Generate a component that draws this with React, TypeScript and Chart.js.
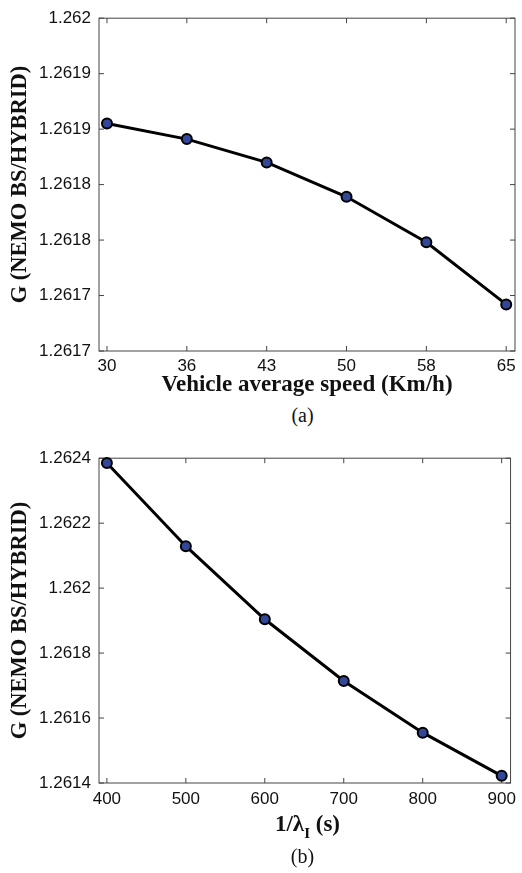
import React, { useEffect, useRef } from "react";
import { Chart, registerables } from "chart.js";

Chart.register(...registerables);

// (a) G ratio vs vehicle average speed
const speedLabels = ["30", "36", "43", "50", "58", "65"];
const speedGain = [1.261905, 1.261891, 1.26187, 1.261839, 1.261798, 1.261742];
const speedYTicks = [1.2617, 1.26175, 1.2618, 1.26185, 1.2619, 1.26195, 1.262];
const speedYLabels = ["1.2617", "1.2617", "1.2618", "1.2618", "1.2619", "1.2619", "1.262"];

// (b) G ratio vs 1/lambda_I
const lambdaValues = [400, 500, 600, 700, 800, 900];
const lambdaGain = [1.262385, 1.262129, 1.261904, 1.261714, 1.261555, 1.261422];
const lambdaYTicks = [1.2614, 1.2616, 1.2618, 1.262, 1.2622, 1.2624];
const lambdaYLabels = ["1.2614", "1.2616", "1.2618", "1.262", "1.2622", "1.2624"];

const FRAME = "#444";
const TEXT = "#111";
const SANS = "'Liberation Sans', Arial, sans-serif";
const SERIF = "'Liberation Serif', 'Times New Roman', serif";

// matlab style box with inward tick marks on all four sides
const boxTicks = {
  id: "boxTicks",
  beforeDatasetsDraw(chart: any) {
    const { ctx, chartArea, scales } = chart;
    const { left, right, top, bottom } = chartArea;
    ctx.save();
    ctx.strokeStyle = FRAME;
    ctx.lineWidth = 1;
    ctx.strokeRect(left, top, right - left, bottom - top);
    ctx.beginPath();
    scales.x.ticks.forEach((t: any) => {
      const px = scales.x.getPixelForValue(t.value);
      ctx.moveTo(px, bottom);
      ctx.lineTo(px, bottom - 5);
      ctx.moveTo(px, top);
      ctx.lineTo(px, top + 5);
    });
    scales.y.ticks.forEach((t: any) => {
      const py = scales.y.getPixelForValue(t.value);
      ctx.moveTo(left, py);
      ctx.lineTo(left + 5, py);
      ctx.moveTo(right, py);
      ctx.lineTo(right - 5, py);
    });
    ctx.stroke();
    ctx.restore();
  },
};

type PanelProps = {
  points: { x: number; y: number }[];
  xMin: number;
  xMax: number;
  xTicks: number[];
  xLabel: (v: number) => string;
  xTitle: string | null;
  yMin: number;
  yMax: number;
  yTicks: number[];
  yLabels: string[];
  height: number;
  axisHeight: number;
  tickPad: number;
};

const Panel = (p: PanelProps) => {
  const canvasRef = useRef<HTMLCanvasElement | null>(null);

  useEffect(() => {
    const ctx = canvasRef.current?.getContext("2d");
    if (!ctx) return;

    const chart = new Chart(ctx, {
      type: "line",
      data: {
        datasets: [
          {
            data: p.points,
            borderColor: "#000",
            borderWidth: 3,
            tension: 0,
            pointRadius: 5,
            pointBorderWidth: 2,
            pointBorderColor: "#000",
            pointBackgroundColor: "#33479a",
            clip: false,
          },
        ],
      },
      options: {
        animation: false,
        responsive: true,
        maintainAspectRatio: false,
        layout: { padding: { top: 11, right: 6, left: 0, bottom: 0 } },
        plugins: { legend: { display: false }, tooltip: { enabled: false } },
        scales: {
          x: {
            type: "linear",
            min: p.xMin,
            max: p.xMax,
            grid: { display: false, drawTicks: false, tickLength: 0 },
            border: { display: false },
            afterBuildTicks: (scale: any) => {
              scale.ticks = p.xTicks.map((value) => ({ value }));
            },
            afterFit: (scale: any) => {
              scale.height = p.axisHeight;
            },
            ticks: {
              color: TEXT,
              padding: p.tickPad,
              maxRotation: 0,
              autoSkip: false,
              font: { family: SANS, size: 17 },
              callback: (v: any) => p.xLabel(Number(v)),
            },
            title: {
              display: !!p.xTitle,
              text: p.xTitle ?? "",
              color: TEXT,
              padding: { top: 0, bottom: 1 },
              font: { family: SERIF, size: 23, weight: "bold" },
            },
          },
          y: {
            min: p.yMin,
            max: p.yMax,
            grid: { display: false, drawTicks: false, tickLength: 0 },
            border: { display: false },
            afterBuildTicks: (scale: any) => {
              scale.ticks = p.yTicks.map((value) => ({ value }));
            },
            afterFit: (scale: any) => {
              scale.width = 99;
            },
            ticks: {
              color: TEXT,
              padding: 8,
              autoSkip: false,
              font: { family: SANS, size: 17 },
              callback: (_v: any, i: number) => p.yLabels[i],
            },
            title: {
              display: true,
              text: "G (NEMO BS/HYBRID)",
              color: TEXT,
              padding: { top: 7, bottom: 0 },
              font: { family: SERIF, size: 22.5, weight: "bold" },
            },
          },
        },
      },
      plugins: [boxTicks],
    } as any);

    return () => {
      chart.destroy();
    };
  }, []);

  return (
    <div style={{ position: "relative", width: 522, height: p.height }}>
      <canvas ref={canvasRef} />
    </div>
  );
};

const caption: React.CSSProperties = {
  position: "absolute",
  left: 99,
  width: 417,
  textAlign: "center",
  fontFamily: SERIF,
  color: TEXT,
};

const App = () => {
  useEffect(() => {
    document.body.style.margin = "0";
  }, []);

  return (
    <div style={{ position: "relative", width: 522, height: 873, background: "#fff" }}>
      <div style={{ position: "absolute", top: 0, left: 0 }}>
        <Panel
          points={speedGain.map((y, i) => ({ x: i, y }))}
          xMin={-0.1}
          xMax={5.11}
          xTicks={speedLabels.map((_, i) => i)}
          xLabel={(v) => speedLabels[Math.round(v)]}
          xTitle="Vehicle average speed (Km/h)"
          yMin={1.2617}
          yMax={1.262}
          yTicks={speedYTicks}
          yLabels={speedYLabels}
          height={400}
          axisHeight={49}
          tickPad={5}
        />
      </div>
      <div style={{ ...caption, top: 403, fontSize: 20, lineHeight: "24px", paddingRight: 10, boxSizing: "border-box" }}>
        (a)
      </div>
      <div style={{ position: "absolute", top: 440, left: 0 }}>
        <Panel
          points={lambdaGain.map((y, i) => ({ x: lambdaValues[i], y }))}
          xMin={390}
          xMax={911.25}
          xTicks={lambdaValues}
          xLabel={(v) => String(v)}
          xTitle={null}
          yMin={1.2614}
          yMax={1.2624}
          yTicks={lambdaYTicks}
          yLabels={lambdaYLabels}
          height={380}
          axisHeight={37}
          tickPad={6}
        />
      </div>
      <div style={{ ...caption, top: 811, fontSize: 23, lineHeight: "26px", fontWeight: "bold" }}>
        1/λ
        <sub style={{ fontSize: 15, lineHeight: 0, verticalAlign: "-0.45em" }}>I</sub> (s)
      </div>
      <div style={{ ...caption, top: 844, fontSize: 20, lineHeight: "24px", paddingRight: 10, boxSizing: "border-box" }}>
        (b)
      </div>
    </div>
  );
};

export default App;
